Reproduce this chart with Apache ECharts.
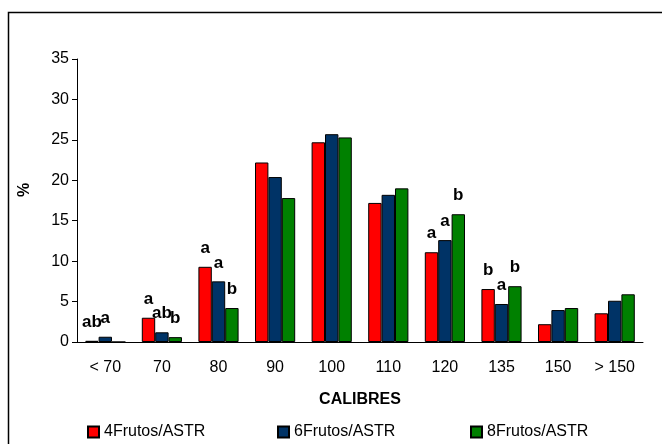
<!DOCTYPE html>
<html><head><meta charset="utf-8">
<script src="https://cdn.jsdelivr.net/npm/echarts@6/dist/echarts.min.js"></script>
<style>html,body{margin:0;padding:0;background:#fff}#c{width:662px;height:444px}</style>
</head><body><div id="c"></div>
<script>
const categories = ['< 70','70','80','90','100','110','120','135','150','> 150'];
const seriesNames = ['4Frutos/ASTR','6Frutos/ASTR','8Frutos/ASTR'];
const values4 = [0.15, 3.0, 9.3, 22.2, 24.7, 17.2, 11.1, 6.55, 2.2, 3.55];
const values6 = [0.65, 1.2, 7.5, 20.4, 25.7, 18.2, 12.6, 4.7, 3.95, 5.1];
const values8 = [0, 0.6, 4.2, 17.8, 25.3, 19.0, 15.8, 6.9, 4.2, 5.9];
const letters4 = ['ab','a','a','','','','a','b','',''];
const letters6 = ['a','ab','a','','','','a','a','',''];
const letters8 = ['','b','b','','','','b','b','',''];
const yTicks = [0,5,10,15,20,25,30,35];

const colors = ['#FF0000','#003366','#008000'];
const font = 'Arial, "Liberation Sans", sans-serif';
const chart = echarts.init(document.getElementById('c'), null, {renderer:'canvas'});
function mk(i, vals, letters){
  return {
    name: seriesNames[i], type:'bar', data: vals,
    barGap: '0%', barCategoryGap: '29%',
    itemStyle:{color:colors[i], borderColor:'#000', borderWidth:1},
    label:{show:true, position:'top', distance:10, fontFamily:font, fontWeight:'bold', fontSize:17, color:'#000',
      formatter: p => letters[p.dataIndex]},
    emphasis:{disabled:true}, animation:false
  };
}
const legendBase = {orient:'horizontal', itemWidth:11, itemHeight:11, top:419, itemGap:6,
  textStyle:{fontFamily:font, fontSize:16, color:'#000'}, icon:'rect'};
chart.setOption({
  animation:false,
  graphic:[{type:'rect', shape:{x:8.5,y:12.5,width:700,height:500}, style:{fill:'none', stroke:'#000', lineWidth:1.5}, z:-1},
    {type:'text', x:25, y:190, rotation:Math.PI/2, style:{text:'%', font:'bold 16px '+font, fill:'#000', align:'center', verticalAlign:'middle'}}],
  grid:{left:77, top:59, right:19, bottom:102},
  legend:[
    Object.assign({}, legendBase, {left:82, data:[seriesNames[0]]}),
    Object.assign({}, legendBase, {left:272, data:[seriesNames[1]]}),
    Object.assign({}, legendBase, {left:465, data:[seriesNames[2]]})
  ],
  xAxis:{type:'category', data:categories, name:'CALIBRES', nameLocation:'middle', nameGap:50,
    nameTextStyle:{fontFamily:font, fontWeight:'bold', fontSize:16, color:'#000'},
    axisLine:{lineStyle:{color:'#000'}}, axisTick:{length:5, lineStyle:{color:'#000'}},
    axisLabel:{fontFamily:font, fontSize:16, color:'#000', margin:18}},
  yAxis:{type:'value', min:0, max:35, interval:5,
    axisLine:{show:true, lineStyle:{color:'#000'}}, axisTick:{show:true, length:5, lineStyle:{color:'#000'}},
    splitLine:{show:false},
    axisLabel:{fontFamily:font, fontSize:16, color:'#000', margin:8, formatter: v => yTicks.includes(v) ? String(v) : ''}},
  series:[mk(0, values4, letters4), mk(1, values6, letters6), mk(2, values8, letters8)]
});
</script></body></html>
